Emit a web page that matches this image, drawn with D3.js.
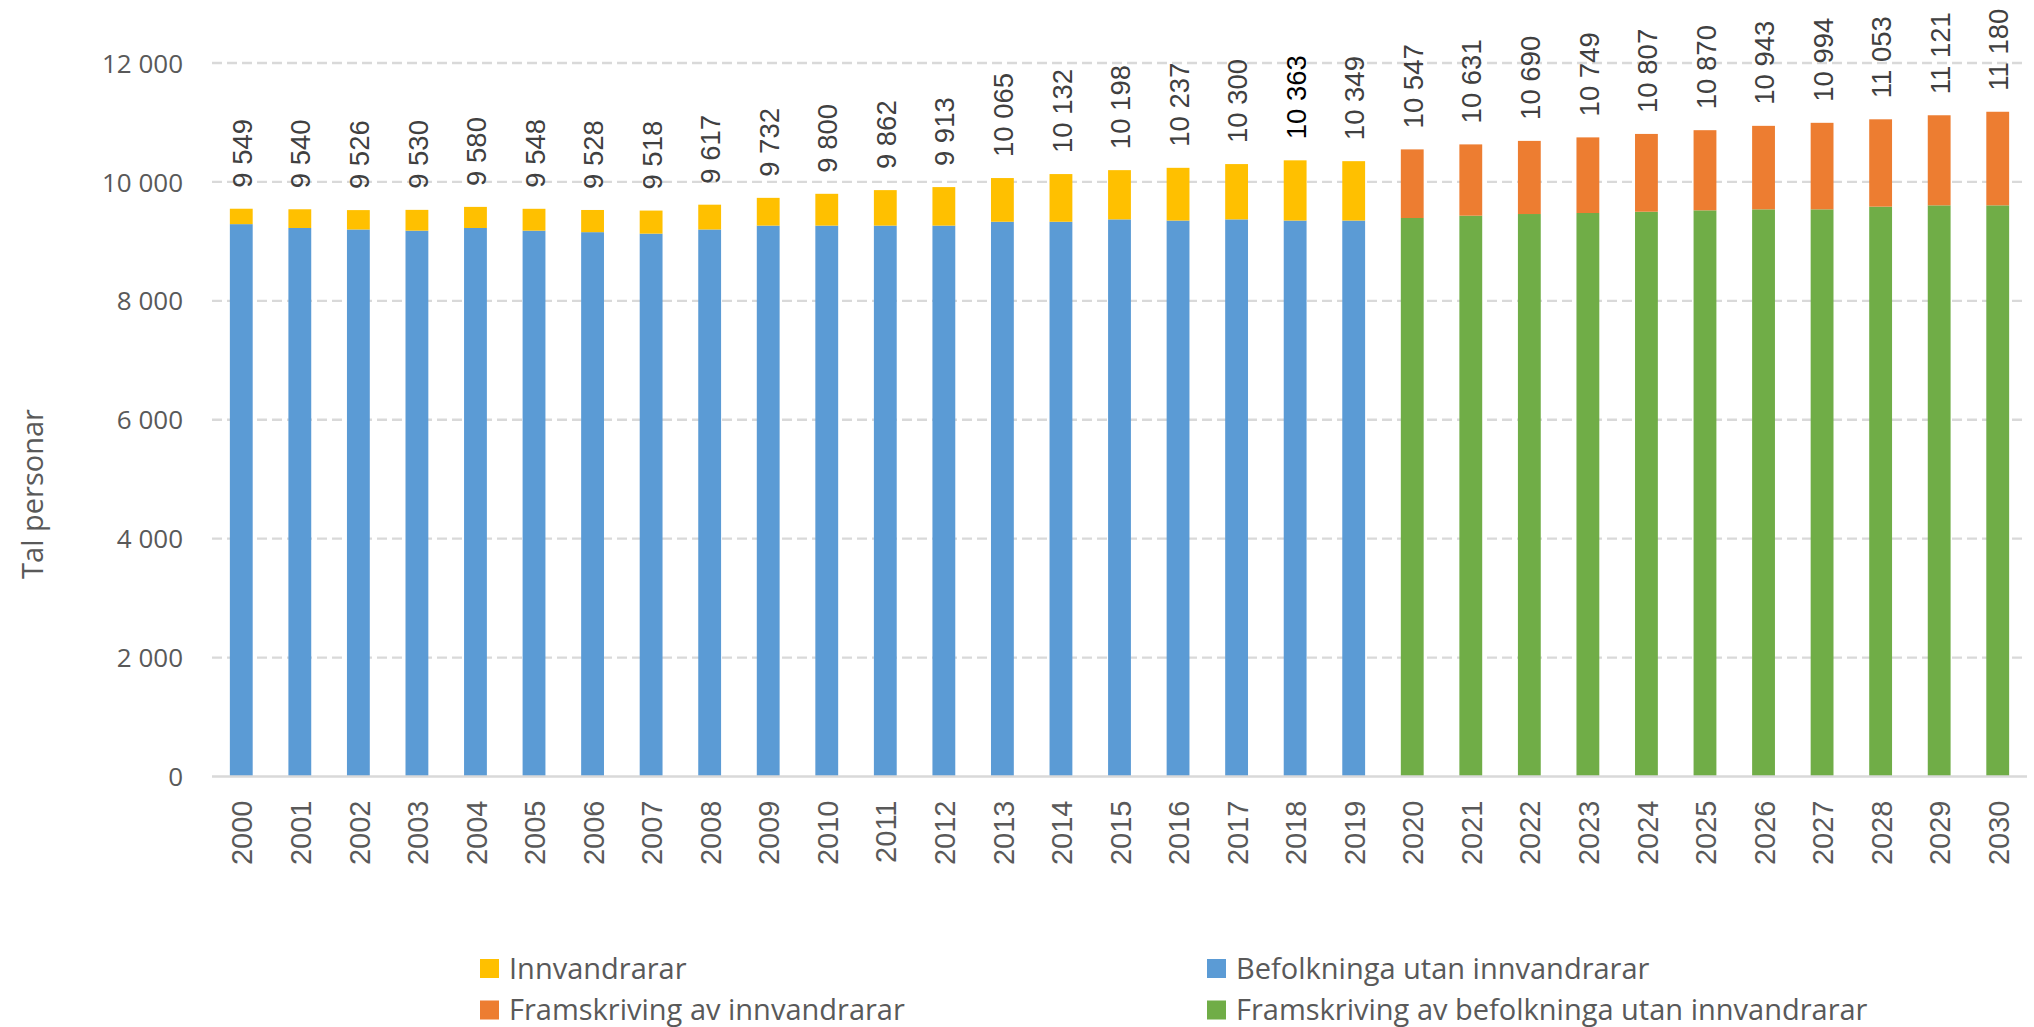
<!DOCTYPE html>
<html>
<head>
<meta charset="utf-8">
<script src="https://cdn.jsdelivr.net/npm/d3@7"></script>
<style>
  html, body { margin: 0; padding: 0; background: #fff; }
  svg { display: block; }
</style>
</head>
<body>
<svg id="chart" width="2034" height="1027"></svg>
<script>
// ---- data ----
const years = ["2000","2001","2002","2003","2004","2005","2006","2007","2008","2009",
  "2010","2011","2012","2013","2014","2015","2016","2017","2018","2019",
  "2020","2021","2022","2023","2024","2025","2026","2027","2028","2029","2030"];

// Befolkninga utan innvandrarar (2000-2019)
const befolkning = [9290,9225,9200,9180,9225,9180,9155,9130,9200,9265,
  9265,9265,9265,9330,9330,9370,9350,9370,9350,9350];
// Innvandrarar (2000-2019)
const innvandrarar = [259,315,326,350,355,368,373,388,417,467,
  535,597,648,735,802,828,887,930,1013,999];
// Framskriving av befolkninga utan innvandrarar (2020-2030)
const framBefolkning = [9393,9432,9460,9477,9499,9522,9539,9539,9584,9606,9606];
// Framskriving av innvandrarar (2020-2030)
const framInnvandrarar = [1154,1199,1230,1272,1308,1348,1404,1455,1469,1515,1574];
// Totals shown as labels
const totals = [9549,9540,9526,9530,9580,9548,9528,9518,9617,9732,
  9800,9862,9913,10065,10132,10198,10237,10300,10363,10349,
  10547,10631,10690,10749,10807,10870,10943,10994,11053,11121,11180];

const yTicks = [0,2000,4000,6000,8000,10000,12000];

const seriesNames = ["Innvandrarar","Befolkninga utan innvandrarar",
  "Framskriving av innvandrarar","Framskriving av befolkninga utan innvandrarar"];
const colors = {
  "Innvandrarar": "#FFC000",
  "Befolkninga utan innvandrarar": "#5B9BD5",
  "Framskriving av innvandrarar": "#ED7D31",
  "Framskriving av befolkninga utan innvandrarar": "#70AD47"
};

// ---- build rows ----
const nHist = befolkning.length;
const rows = years.map((y, i) => {
  const hist = i < nHist;
  return {
    year: y,
    base: hist ? befolkning[i] : framBefolkning[i - nHist],
    top: hist ? innvandrarar[i] : framInnvandrarar[i - nHist],
    baseName: hist ? "Befolkninga utan innvandrarar" : "Framskriving av befolkninga utan innvandrarar",
    topName: hist ? "Innvandrarar" : "Framskriving av innvandrarar",
    total: totals[i]
  };
});

// ---- scales ----
const svg = d3.select("#chart");
const x = d3.scaleBand().domain(years).range([212, 2027]).paddingInner(0).paddingOuter(0);
const y = d3.scaleLinear().domain([0, 12000]).range([776.5, 63]);
const barW = x.step() * 0.39;

const fmt = v => d3.format(",")(v).replace(/,/g, " ");

// gridlines
svg.append("g").selectAll("line")
  .data(yTicks.filter(t => t > 0))
  .join("line")
  .attr("x1", 212).attr("x2", 2027)
  .attr("y1", d => y(d)).attr("y2", d => y(d))
  .attr("stroke", "#d9d9d9").attr("stroke-width", 2.3)
  .attr("stroke-dasharray", "10,5");

// y axis via d3.axisLeft (labels only)
const yAxis = svg.append("g")
  .attr("transform", "translate(183,0)")
  .call(d3.axisLeft(y).tickValues(yTicks).tickSize(0).tickPadding(0).tickFormat(fmt));
yAxis.select(".domain").remove();
yAxis.selectAll("text")
  .attr("font-family", "'Open Sans', sans-serif")
  .attr("font-size", 26)
  .attr("fill", "#595959")
  .attr("dy", "0.35em")
  .attr("text-anchor", "end");

// bars
const g = svg.append("g");
g.selectAll("rect.base").data(rows).join("rect")
  .attr("class", "base")
  .attr("x", d => x(d.year) + x.bandwidth() / 2 - barW / 2)
  .attr("width", barW)
  .attr("y", d => y(d.base))
  .attr("height", d => y(0) - y(d.base))
  .attr("fill", d => colors[d.baseName]);
g.selectAll("rect.top").data(rows).join("rect")
  .attr("class", "top")
  .attr("x", d => x(d.year) + x.bandwidth() / 2 - barW / 2)
  .attr("width", barW)
  .attr("y", d => y(d.base + d.top))
  .attr("height", d => y(d.base) - y(d.base + d.top))
  .attr("fill", d => colors[d.topName]);

// x axis line
svg.append("line")
  .attr("x1", 212).attr("x2", 2027)
  .attr("y1", y(0)).attr("y2", y(0))
  .attr("stroke", "#d9d9d9").attr("stroke-width", 2.7);

// x axis labels via d3.axisBottom
const xAxis = svg.append("g")
  .attr("transform", `translate(0,${y(0)})`)
  .call(d3.axisBottom(x).tickSize(0).tickPadding(0));
xAxis.select(".domain").remove();
xAxis.selectAll("text")
  .attr("font-family", "'Liberation Sans', Arial, sans-serif")
  .attr("font-size", 29)
  .attr("fill", "#595959")
  .attr("text-anchor", "end")
  .attr("dy", "0.35em")
  .attr("transform", "translate(1,24) rotate(-90)")
  .attr("x", 0).attr("y", 0);

// data labels
svg.append("g").selectAll("text").data(rows).join("text")
  .attr("transform", d => `translate(${x(d.year) + x.bandwidth() / 2 + 1},${y(d.total) - 21}) rotate(-90)`)
  .attr("text-anchor", "start")
  .attr("dy", "0.35em")
  .attr("font-family", "'Liberation Sans', Arial, sans-serif")
  .attr("font-size", 27.5)
  .attr("fill", d => d.year === "2018" ? "#000000" : "#404040")
  .text(d => fmt(d.total));

// y axis title
svg.append("text")
  .attr("transform", "translate(33,494) rotate(-90)")
  .attr("text-anchor", "middle")
  .attr("dy", "0.35em")
  .attr("font-family", "'Open Sans', sans-serif")
  .attr("font-size", 29)
  .attr("fill", "#595959")
  .text("Tal personar");

// legend
const legendPos = [
  { name: "Innvandrarar", x: 480, y: 968.5 },
  { name: "Befolkninga utan innvandrarar", x: 1207, y: 968.5 },
  { name: "Framskriving av innvandrarar", x: 480, y: 1010 },
  { name: "Framskriving av befolkninga utan innvandrarar", x: 1207, y: 1010 }
];
const lg = svg.append("g").selectAll("g").data(legendPos).join("g")
  .attr("transform", d => `translate(${d.x},${d.y})`);
lg.append("rect").attr("x", 0).attr("y", -9.5).attr("width", 19).attr("height", 19)
  .attr("fill", d => colors[d.name]);
lg.append("text").attr("x", 29).attr("dy", "0.35em")
  .attr("font-family", "'Open Sans', sans-serif")
  .attr("font-size", 29)
  .attr("fill", "#595959")
  .text(d => d.name);
</script>
</body>
</html>
